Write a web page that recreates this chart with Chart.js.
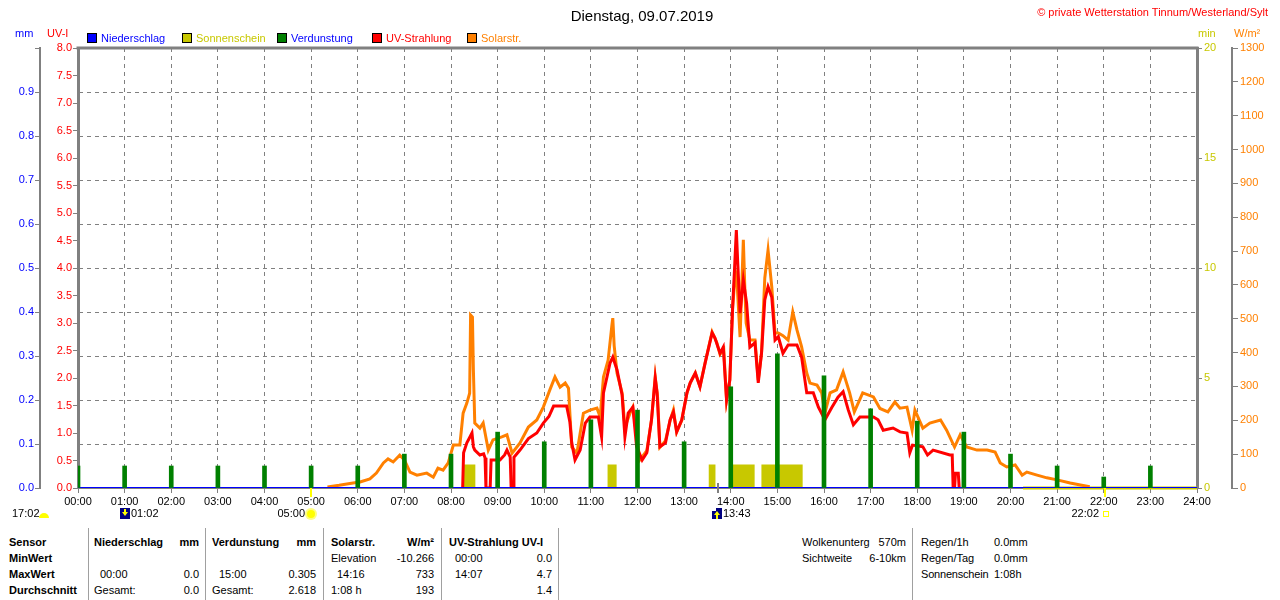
<!DOCTYPE html>
<html lang="de">
<head>
<meta charset="utf-8">
<title>Dienstag, 09.07.2019</title>
<script src="https://cdn.jsdelivr.net/npm/chart.js@4.4.0/dist/chart.umd.min.js"></script>
<style>
  body { margin: 0; background: #fff; font-family: "Liberation Sans", Arial, sans-serif; font-size: 11px; color: #000; }
  #wrap { position: relative; width: 1280px; height: 600px; overflow: hidden; }
  #chart { position: absolute; left: 0; top: 0; }
  .t { position: absolute; white-space: nowrap; line-height: 14px; }
  .r { text-align: right; }
  .b { font-weight: bold; }
  .sep { position: absolute; top: 528px; width: 1px; height: 72px; background: #a0a0a0; }
  .sq { position: absolute; top: 33px; width: 8px; height: 8px; border: 1px solid #000; }
</style>
</head>
<body>
<div id="wrap">
  <canvas id="chart" width="1280" height="520"></canvas>

  <!-- Kopf -->
  <div class="t" style="left:0;width:1284px;top:7px;text-align:center;font-size:15px;line-height:17px;">Dienstag, 09.07.2019</div>
  <div class="t r" style="right:12px;top:5px;color:#ff0000;">© private Wetterstation Tinnum/Westerland/Sylt</div>

  <!-- Einheiten -->
  <div class="t" style="left:15px;top:26px;color:#0000ff;">mm</div>
  <div class="t" style="left:47px;top:26px;color:#ff0000;">UV-I</div>
  <div class="t" style="left:1198px;top:26px;color:#c8c800;">min</div>
  <div class="t" style="left:1234px;top:26px;color:#ff8000;">W/m²</div>

  <!-- Legende -->
  <div class="sq" style="left:87px;background:#0000ff;"></div>
  <div class="t" style="left:101px;top:31px;color:#0000ff;">Niederschlag</div>
  <div class="sq" style="left:182px;background:#c8c800;"></div>
  <div class="t" style="left:196px;top:31px;color:#c8c800;">Sonnenschein</div>
  <div class="sq" style="left:277px;background:#008000;"></div>
  <div class="t" style="left:291px;top:31px;color:#0000ff;">Verdunstung</div>
  <div class="sq" style="left:372px;background:#ff0000;"></div>
  <div class="t" style="left:386px;top:31px;color:#ff0000;">UV-Strahlung</div>
  <div class="sq" style="left:467px;background:#ff8000;"></div>
  <div class="t" style="left:481px;top:31px;color:#ff8000;">Solarstr.</div>

  <!-- Tabelle unten -->
  <div class="sep" style="left:88px;"></div>
  <div class="sep" style="left:205px;"></div>
  <div class="sep" style="left:323px;"></div>
  <div class="sep" style="left:441px;"></div>
  <div class="sep" style="left:558px;"></div>
  <div class="sep" style="left:912px;"></div>

  <div class="t b" style="left:9px;top:535px;">Sensor</div>
  <div class="t b" style="left:9px;top:551px;">MinWert</div>
  <div class="t b" style="left:9px;top:567px;">MaxWert</div>
  <div class="t b" style="left:9px;top:583px;">Durchschnitt</div>

  <div class="t b" style="left:94px;top:535px;">Niederschlag</div>
  <div class="t b r" style="right:1081px;top:535px;">mm</div>
  <div class="t" style="left:100px;top:567px;">00:00</div>
  <div class="t r" style="right:1081px;top:567px;">0.0</div>
  <div class="t" style="left:94px;top:583px;">Gesamt:</div>
  <div class="t r" style="right:1081px;top:583px;">0.0</div>

  <div class="t b" style="left:212px;top:535px;">Verdunstung</div>
  <div class="t b r" style="right:964px;top:535px;">mm</div>
  <div class="t" style="left:219px;top:567px;">15:00</div>
  <div class="t r" style="right:964px;top:567px;">0.305</div>
  <div class="t" style="left:212px;top:583px;">Gesamt:</div>
  <div class="t r" style="right:964px;top:583px;">2.618</div>

  <div class="t b" style="left:331px;top:535px;">Solarstr.</div>
  <div class="t b r" style="right:846px;top:535px;">W/m²</div>
  <div class="t" style="left:331px;top:551px;">Elevation</div>
  <div class="t r" style="right:846px;top:551px;">-10.266</div>
  <div class="t" style="left:337px;top:567px;">14:16</div>
  <div class="t r" style="right:846px;top:567px;">733</div>
  <div class="t" style="left:331px;top:583px;">1:08 h</div>
  <div class="t r" style="right:846px;top:583px;">193</div>

  <div class="t b" style="left:449px;top:535px;">UV-Strahlung UV-I</div>
  <div class="t" style="left:455px;top:551px;">00:00</div>
  <div class="t r" style="right:728px;top:551px;">0.0</div>
  <div class="t" style="left:455px;top:567px;">14:07</div>
  <div class="t r" style="right:728px;top:567px;">4.7</div>
  <div class="t r" style="right:728px;top:583px;">1.4</div>

  <div class="t" style="left:802px;top:535px;">Wolkenunterg</div>
  <div class="t r" style="right:374px;top:535px;">570m</div>
  <div class="t" style="left:802px;top:551px;">Sichtweite</div>
  <div class="t r" style="right:374px;top:551px;">6-10km</div>

  <div class="t" style="left:921px;top:535px;">Regen/1h</div>
  <div class="t" style="left:994px;top:535px;">0.0mm</div>
  <div class="t" style="left:921px;top:551px;">Regen/Tag</div>
  <div class="t" style="left:994px;top:551px;">0.0mm</div>
  <div class="t" style="left:921px;top:567px;letter-spacing:-0.2px;">Sonnenschein</div>
  <div class="t" style="left:994px;top:567px;">1:08h</div>
</div>

<script>
// Achsenbeschriftungen
const hourTicks = [0, 1, 2, 3, 4, 5, 6, 7, 8, 9, 10, 11, 12, 13, 14, 15, 16, 17, 18, 19, 20, 21, 22, 23, 24];
const uvTicks = [0, 0.5, 1, 1.5, 2, 2.5, 3, 3.5, 4, 4.5, 5, 5.5, 6, 6.5, 7, 7.5, 8];
const mmTicks = [0, 0.1, 0.2, 0.3, 0.4, 0.5, 0.6, 0.7, 0.8, 0.9, 1.0];
const minTicks = [0, 5, 10, 15, 20];
const solarTicks = [0, 100, 200, 300, 400, 500, 600, 700, 800, 900, 1000, 1100, 1200, 1300];

// Niederschlag (mm) - den ganzen Tag 0
const rainTime = [0, 24];
const rainValue = [0, 0];

// Verdunstung (mm) je Stunde
const evapHour = [0, 1, 2, 3, 4, 5, 6, 7, 8, 9, 10, 11, 12, 13, 14, 15, 16, 17, 18, 19, 20, 21, 22, 23];
const evapValue = [0.05, 0.05, 0.05, 0.05, 0.05, 0.05, 0.05, 0.077, 0.077, 0.127, 0.105, 0.155,
                   0.177, 0.105, 0.23, 0.305, 0.255, 0.18, 0.152, 0.127, 0.077, 0.05, 0.025, 0.05];

// Sonnenschein (min) - Abschnitte mit Sonne
const sunStart = [8.30, 11.39, 13.56, 14.05, 14.69];
const sunEnd = [8.49, 11.52, 13.64, 14.48, 15.51];
const sunMinutes = [1, 1, 1, 1, 1];
const sunZeroFrom = 20.27;

// Solarstrahlung (W/m²), Zeit in Stunden
const solarTime = [5.35, 5.6, 5.9, 6.05, 6.26, 6.4, 6.55, 6.65, 6.76, 6.9, 7.0, 7.12, 7.27, 7.48, 7.62, 7.72, 7.83, 7.94,
  8.05, 8.19, 8.26, 8.34, 8.40, 8.42, 8.46, 8.48, 8.51, 8.62, 8.69, 8.8, 8.9, 9.09, 9.2, 9.31, 9.48, 9.66, 9.84, 9.98,
  10.12, 10.23, 10.34, 10.45, 10.52, 10.59, 10.7, 10.84, 10.98, 11.13, 11.2, 11.27, 11.37, 11.45, 11.47, 11.5, 11.56,
  11.67, 11.73, 11.84, 11.9, 12.05, 12.2, 12.3, 12.38, 12.43, 12.48, 12.6, 12.7, 12.77, 12.84, 12.95, 13.06, 13.13,
  13.24, 13.34, 13.45, 13.6, 13.7, 13.77, 13.85, 13.91, 13.98, 14.04, 14.1, 14.13, 14.2, 14.27, 14.3, 14.33, 14.41,
  14.52, 14.59, 14.66, 14.73, 14.8, 14.88, 14.95, 15.02, 15.12, 15.23, 15.33, 15.42, 15.52, 15.63, 15.7, 15.85, 15.95,
  16.02, 16.13, 16.27, 16.41, 16.55, 16.65, 16.83, 17.06, 17.2, 17.37, 17.52, 17.63, 17.78, 17.89, 17.95, 18.12,
  18.27, 18.5, 18.63, 18.8, 18.92, 19.06, 19.28, 19.5, 19.67, 19.78, 19.92, 20.1, 20.25, 20.35, 20.57, 20.78, 21.0,
  21.28, 21.5, 21.7];
const solarValue = [3, 8, 15, 18, 27, 44, 74, 86, 77, 97, 83, 47, 38, 44, 32, 59, 53, 74,
  127, 127, 221, 251, 280, 511, 505, 349, 192, 177, 192, 112, 142, 151, 157, 103, 133, 180, 201, 239,
  290, 328, 298, 310, 295, 121, 103, 221, 230, 236, 210, 328, 378, 480, 502, 420, 340,
  281, 180, 221, 239, 83, 110, 200, 328, 270, 120, 140, 200, 230, 165, 200, 280, 310,
  340, 300, 370, 461, 430, 395, 410, 260, 320, 530, 640, 620, 446, 733, 600, 487, 437,
  437, 319, 400, 620, 703, 594, 458, 458, 450, 437, 520, 467, 417, 340, 310, 304, 281,
  221, 281, 290, 343, 281, 225, 281, 269, 235, 225, 254, 236, 239, 171, 230, 177,
  192, 201, 171, 121, 157, 121, 112, 112, 106, 74, 62, 68, 38, 47, 38, 30, 24,
  15, 9, 4];

// UV-Strahlung (UV-Index), Zeit in Stunden
const uvTime = [8.25, 8.27, 8.34, 8.42, 8.45, 8.48, 8.51, 8.62, 8.7, 8.73, 8.75, 8.84, 8.86, 9.05, 9.15, 9.2, 9.27,
  9.29, 9.33, 9.35, 9.48, 9.66, 9.84, 9.98, 10.1, 10.2, 10.48, 10.55, 10.59, 10.66, 10.77, 10.88, 10.98, 11.16, 11.23,
  11.27, 11.41, 11.47, 11.56, 11.67, 11.73, 11.8, 11.9, 11.98, 12.1, 12.2, 12.3, 12.38, 12.42, 12.48, 12.6, 12.7,
  12.77, 12.84, 12.95, 13.06, 13.13, 13.24, 13.34, 13.45, 13.6, 13.66, 13.77, 13.84, 13.91, 13.98, 14.04, 14.08,
  14.12, 14.15, 14.2, 14.27, 14.34, 14.41, 14.52, 14.59, 14.66, 14.73, 14.8, 14.88, 14.95, 15.02, 15.12, 15.23,
  15.42, 15.52, 15.63, 15.77, 15.88, 16.02, 16.17, 16.3, 16.41, 16.52, 16.63, 16.77, 17.06, 17.16, 17.27, 17.48,
  17.63, 17.78, 17.84, 17.9, 18.12, 18.22, 18.34, 18.7, 18.75, 18.77, 18.8, 18.82, 18.88, 18.9];
const uvValue = [0, 0.64, 0.82, 0.95, 1.0, 0.75, 0.69, 0.6, 0.62, 0.55, 0, 0, 0.51, 0.51, 0.6, 0.69, 0.56,
  0, 0, 0.56, 0.69, 0.9, 1.0, 1.18, 1.3, 1.49, 1.49, 1.2, 0.82, 0.51, 0.69, 1.18, 1.29, 1.29, 0.93,
  1.73, 2.27, 2.38, 2.15, 1.69, 0.93, 1.36, 1.47, 0.75, 0.51, 0.64, 1.24, 2.0, 1.73, 0.75, 0.82, 1.24,
  1.38, 1.02, 1.24, 1.73, 1.91, 2.09, 1.84, 2.27, 2.82, 2.73, 2.45, 2.56, 1.6, 1.96, 3.29, 3.96,
  4.69, 4.09, 3.18, 3.78, 3.36, 2.56, 2.64, 1.91, 2.45, 3.42, 3.66, 3.47, 2.69, 2.75, 2.45, 2.6,
  2.6, 2.38, 1.73, 1.73, 1.47, 1.24, 1.47, 1.65, 1.75, 1.42, 1.15, 1.29, 1.29, 1.24, 1.05, 1.09,
  1.02, 1.0, 0.64, 0.78, 0.75, 0.6, 0.69, 0.6, 0.6, 0, 0, 0.27, 0.27, 0];

// Sonne / Mond
const dayLength = '17:02';
const astroLabel = ['01:02', '05:00', '13:43', '22:02'];
const astroHour = [1 + 2 / 60, 5, 13 + 43 / 60, 22 + 2 / 60];
const astroKind = ['moonset', 'sunrise', 'moonrise', 'sunset'];

const GRAY = '#808080';
const YELLOW = '#c8c800';

Chart.defaults.font.family = '"Liberation Sans", Arial, sans-serif';
Chart.defaults.font.size = 11;
Chart.defaults.color = '#000';

const pairs = (xs, ys) => xs.map((x, i) => ({ x: x, y: ys[i] }));
const useTicks = list => scale => { scale.ticks = list.map(v => ({ value: v })); };
const hh = v => (v < 10 ? '0' : '') + v + ':00';

// Sonnenschein als Treppenlinie (Wert gilt bis zum nächsten Punkt)
const sunData = [];
sunStart.forEach((s, i) => {
    sunData.push({ x: s, y: 0 }, { x: s, y: sunMinutes[i] }, { x: sunEnd[i], y: 0 }, { x: sunEnd[i] + 0.01, y: null });
});
sunData.push({ x: sunZeroFrom, y: 0 }, { x: 24, y: 0 });

// Rahmen oben
const framePlugin = {
    id: 'frame',
    afterDatasetsDraw(chart) {
        const { ctx, chartArea: a } = chart;
        ctx.save();
        ctx.strokeStyle = GRAY;
        ctx.lineWidth = 3;
        ctx.beginPath();
        ctx.moveTo(a.left - 1.5, a.top);
        ctx.lineTo(a.right + 1.5, a.top);
        ctx.stroke();
        ctx.restore();
    }
};

// Sonnenauf-/untergang, Mondauf-/untergang unter der Zeitachse
const astroPlugin = {
    id: 'astro',
    afterDraw(chart) {
        const { ctx, chartArea: a } = chart;
        const xs = chart.scales.x;
        const y0 = a.bottom;
        ctx.save();
        ctx.font = '11px "Liberation Sans", Arial, sans-serif';
        ctx.textBaseline = 'middle';
        ctx.fillStyle = '#000';

        // Tageslänge links
        ctx.textAlign = 'left';
        ctx.fillText(dayLength, 12, 514);
        ctx.fillStyle = '#ffff00';
        ctx.beginPath();
        ctx.arc(44, 518, 5, Math.PI, 0);
        ctx.fill();

        astroKind.forEach((kind, i) => {
            const px = Math.round(xs.getPixelForValue(astroHour[i]));
            ctx.fillStyle = '#000';
            if (kind === 'sunrise' || kind === 'sunset') {
                ctx.textAlign = 'right';
                ctx.fillText(astroLabel[i], px - 6, 514);
                ctx.fillStyle = '#ffff00';
                ctx.fillRect(px - 1, y0, 2, 9);
                if (kind === 'sunrise') {
                    ctx.fillStyle = '#ffff80';
                    ctx.beginPath();
                    ctx.arc(px, 514, 6, 0, Math.PI * 2);
                    ctx.fill();
                    ctx.fillStyle = '#ffff00';
                    ctx.beginPath();
                    ctx.arc(px, 514, 4, 0, Math.PI * 2);
                    ctx.fill();
                } else {
                    ctx.strokeStyle = '#ffff00';
                    ctx.lineWidth = 1;
                    ctx.strokeRect(px - 1.5, 511.5, 5, 5);
                }
            } else {
                if (kind === 'moonrise') {
                    ctx.fillStyle = GRAY;
                    ctx.fillRect(px - 1, y0 - 5, 2, 10);
                }
                ctx.fillStyle = '#000080';
                ctx.fillRect(px - 6, 508, 10, 11);
                if (kind === 'moonrise') {
                    ctx.fillStyle = '#ffffff';
                    ctx.fillRect(px - 6, 508, 4, 3);
                }
                ctx.fillStyle = '#ffff00';
                ctx.beginPath();
                if (kind === 'moonset') {
                    ctx.fillRect(px - 2, 509, 2, 3);
                    ctx.moveTo(px - 4, 512); ctx.lineTo(px + 2, 512); ctx.lineTo(px - 1, 516);
                } else {
                    ctx.fillRect(px - 2, 515, 2, 4);
                    ctx.moveTo(px - 4, 515); ctx.lineTo(px + 2, 515); ctx.lineTo(px - 1, 511);
                }
                ctx.fill();
                ctx.fillStyle = '#000';
                ctx.textAlign = 'left';
                ctx.fillText(astroLabel[i], px + 5, 514);
            }
        });
        ctx.restore();
    }
};

const lineStyle = { pointRadius: 0, tension: 0, fill: false };

new Chart(document.getElementById('chart').getContext('2d'), {
    type: 'line',
    data: {
        datasets: [
            {
                type: 'bar', label: 'Verdunstung', data: pairs(evapHour, evapValue), yAxisID: 'yMm',
                backgroundColor: '#008000', borderWidth: 0, barThickness: 4, order: 0
            },
            {
                label: 'Niederschlag', data: pairs(rainTime, rainValue), yAxisID: 'yMm',
                borderColor: '#0000ff', borderWidth: 2, order: 1, ...lineStyle
            },
            {
                label: 'UV-Strahlung', data: pairs(uvTime, uvValue), yAxisID: 'yUv',
                borderColor: '#ff0000', borderWidth: 3, order: 2, ...lineStyle
            },
            {
                label: 'Solarstr.', data: pairs(solarTime, solarValue), yAxisID: 'ySolar',
                borderColor: '#ff8000', borderWidth: 3, order: 3, ...lineStyle
            },
            {
                label: 'Sonnenschein', data: sunData, yAxisID: 'yMin',
                borderColor: YELLOW, backgroundColor: YELLOW, borderWidth: 3,
                pointRadius: 0, stepped: 'before', fill: 'origin', spanGaps: false, clip: false, order: 4
            }
        ]
    },
    options: {
        responsive: false,
        animation: false,
        devicePixelRatio: 1,
        layout: { padding: { top: 48, left: 0, right: 0, bottom: 0 } },
        plugins: { legend: { display: false }, tooltip: { enabled: false } },
        events: [],
        scales: {
            x: {
                type: 'linear', min: 0, max: 24, offset: false,
                afterBuildTicks: useTicks(hourTicks),
                afterFit: s => { s.height = 32; },
                ticks: { autoSkip: false, maxRotation: 0, padding: 2, color: '#000', callback: v => hh(v) },
                grid: {
                    offset: false, tickLength: 5, tickColor: GRAY,
                    color: c => (c.tick && (c.tick.value === 0 || c.tick.value === 24)) ? 'rgba(0,0,0,0)' : GRAY
                },
                border: { color: GRAY, width: 1, dash: [4, 4] }
            },
            yUv: {
                type: 'linear', position: 'left', weight: 0, min: 0, max: 8,
                afterBuildTicks: useTicks(uvTicks),
                afterFit: s => { s.width = 38; },
                ticks: { color: '#ff0000', padding: 1, autoSkip: false, callback: v => v.toFixed(1) },
                grid: { drawOnChartArea: false, tickLength: 5, color: GRAY },
                border: { color: GRAY, width: 3 }
            },
            yMm: {
                type: 'linear', position: 'left', weight: 1, min: 0, max: 1,
                afterBuildTicks: useTicks(mmTicks),
                afterFit: s => { s.width = 40; },
                ticks: { color: '#0000ff', padding: 1, autoSkip: false, callback: v => v >= 1 ? '' : v.toFixed(1) },
                grid: {
                    tickLength: 5, tickColor: GRAY,
                    color: c => (c.tick && (c.tick.value <= 0 || c.tick.value >= 1)) ? 'rgba(0,0,0,0)' : GRAY
                },
                border: { color: GRAY, width: 2, dash: [4, 4] }
            },
            yMin: {
                type: 'linear', position: 'right', weight: 0, min: 0, max: 20,
                afterBuildTicks: useTicks(minTicks),
                afterFit: s => { s.width = 35; },
                ticks: { color: YELLOW, padding: 2, autoSkip: false, callback: v => String(v) },
                grid: { drawOnChartArea: false, tickLength: 5, color: GRAY },
                border: { color: GRAY, width: 3 }
            },
            ySolar: {
                type: 'linear', position: 'right', weight: 1, min: 0, max: 1300,
                afterBuildTicks: useTicks(solarTicks),
                afterFit: s => { s.width = 48; },
                ticks: { color: '#ff8000', padding: 2, autoSkip: false, callback: v => String(v) },
                grid: { drawOnChartArea: false, tickLength: 6, color: GRAY },
                border: { color: GRAY, width: 2 }
            }
        }
    },
    plugins: [framePlugin, astroPlugin]
});
</script>
</body>
</html>
